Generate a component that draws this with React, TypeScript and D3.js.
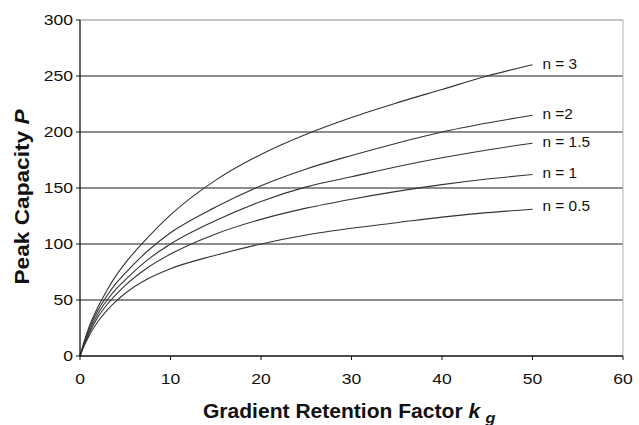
import React from 'react';
import * as d3 from 'd3';

const kValues = [0, 0.5, 1, 2, 3, 4, 5, 7.5, 10, 15, 20, 25, 30, 35, 40, 45, 50];

// Peak capacity per curve
const pN3 = [0, 14, 26, 44, 59, 72, 83, 106, 126, 157, 180, 198, 213, 226, 238, 250, 260];
const pN2 = [0, 13, 24, 41, 54, 65, 74, 94, 110, 133, 152, 167, 179, 190, 200, 208, 215];
const pN15 = [0, 12, 22, 38, 50, 60, 68, 86, 100, 121, 138, 151, 160, 169, 177, 184, 190];
const pN1 = [0, 11, 20, 35, 46, 55, 63, 79, 91, 109, 122, 132, 140, 147, 153, 158, 162];
const pN05 = [0, 10, 18, 31, 41, 49, 56, 69, 78, 90, 100, 108, 114, 119, 124, 128, 131];

const seriesLabels = ['n = 3', 'n =2', 'n = 1.5', 'n = 1', 'n = 0.5'];
const seriesValues = [pN3, pN2, pN15, pN1, pN05];

const xTicks = [0, 10, 20, 30, 40, 50, 60];
const yTicks = [0, 50, 100, 150, 200, 250, 300];

const W = 639;
const H = 425;
const margin = { left: 80, right: 16, top: 20, bottom: 69 };

const font = 'Arial, "Liberation Sans", Helvetica, sans-serif';

export default function App() {
  const x = d3.scaleLinear().domain([0, 60]).range([margin.left, W - margin.right]);
  const y = d3.scaleLinear().domain([0, 300]).range([H - margin.bottom, margin.top]);

  const line = d3
    .line<number>()
    .x((_, i) => x(kValues[i]))
    .y((d) => y(d))
    .curve(d3.curveMonotoneX);

  const x0 = x(0);
  const x1 = x(60);
  const y0 = y(0);
  const yTop = y(300);

  return (
    <svg
      width={W}
      height={H}
      style={{ position: 'absolute', left: 0, top: 0, background: '#fff' }}
      fontFamily={font}
    >
      {/* horizontal gridlines */}
      {yTicks.filter((t) => t > 0 && t < 300).map((t) => (
        <line key={t} x1={x0} x2={x1} y1={y(t)} y2={y(t)} stroke="#1a1a1a" strokeWidth={1.2} />
      ))}
      {/* frame: top and right in grey */}
      <line x1={x0} x2={x1} y1={yTop} y2={yTop} stroke="#8a8a8a" strokeWidth={1.1} />
      <line x1={x1} x2={x1} y1={yTop} y2={y0} stroke="#b0b0b0" strokeWidth={1} />

      {/* curves */}
      {seriesValues.map((vals, i) => (
        <path key={i} d={line(vals) || ''} fill="none" stroke="#333" strokeWidth={1.1} />
      ))}

      {/* curve labels */}
      {seriesValues.map((vals, i) => (
        <text
          key={i}
          transform={`translate(${x(50) + 10}, ${y(vals[vals.length - 1]) - (i === 4 ? 3 : 1)}) scale(1.1, 1)`}
          dy="0.35em"
          fontSize={14}
          fill="#111"
        >
          {seriesLabels[i]}
        </text>
      ))}

      {/* y axis */}
      <line x1={x0} x2={x0} y1={yTop} y2={y0} stroke="#111" strokeWidth={1.3} />
      {yTicks.map((t) => (
        <g key={t}>
          <line x1={x0 - 4} x2={x0} y1={y(t)} y2={y(t)} stroke="#111" />
          <text
            transform={`translate(${x0 - 7}, ${y(t)}) scale(1.17, 1)`}
            dy="0.35em"
            textAnchor="end"
            fontSize={15}
            fill="#111"
          >
            {t}
          </text>
        </g>
      ))}

      {/* x axis */}
      <line x1={x0} x2={x1} y1={y0} y2={y0} stroke="#111" strokeWidth={1.3} />
      {xTicks.map((t) => (
        <g key={t}>
          <line x1={x(t)} x2={x(t)} y1={y0} y2={y0 + 4} stroke="#111" />
          <text
            transform={`translate(${x(t)}, ${y0 + 23}) scale(1.17, 1)`}
            dy="0.35em"
            textAnchor="middle"
            fontSize={15}
            fill="#111"
          >
            {t}
          </text>
        </g>
      ))}

      {/* axis titles */}
      <text
        transform="translate(203, 418) scale(1.08, 1)"
        fontSize={19.5}
        fontWeight="bold"
        fill="#111"
      >
        Gradient Retention Factor <tspan fontStyle="italic">k</tspan>
        <tspan fontStyle="italic" fontSize={15} dx={5} dy={5}>g</tspan>
      </text>
      <text
        transform="translate(29, 197) rotate(-90) scale(1.08, 1)"
        textAnchor="middle"
        fontSize={21}
        fontWeight="bold"
        fill="#111"
      >
        Peak Capacity <tspan fontStyle="italic">P</tspan>
      </text>
    </svg>
  );
}
